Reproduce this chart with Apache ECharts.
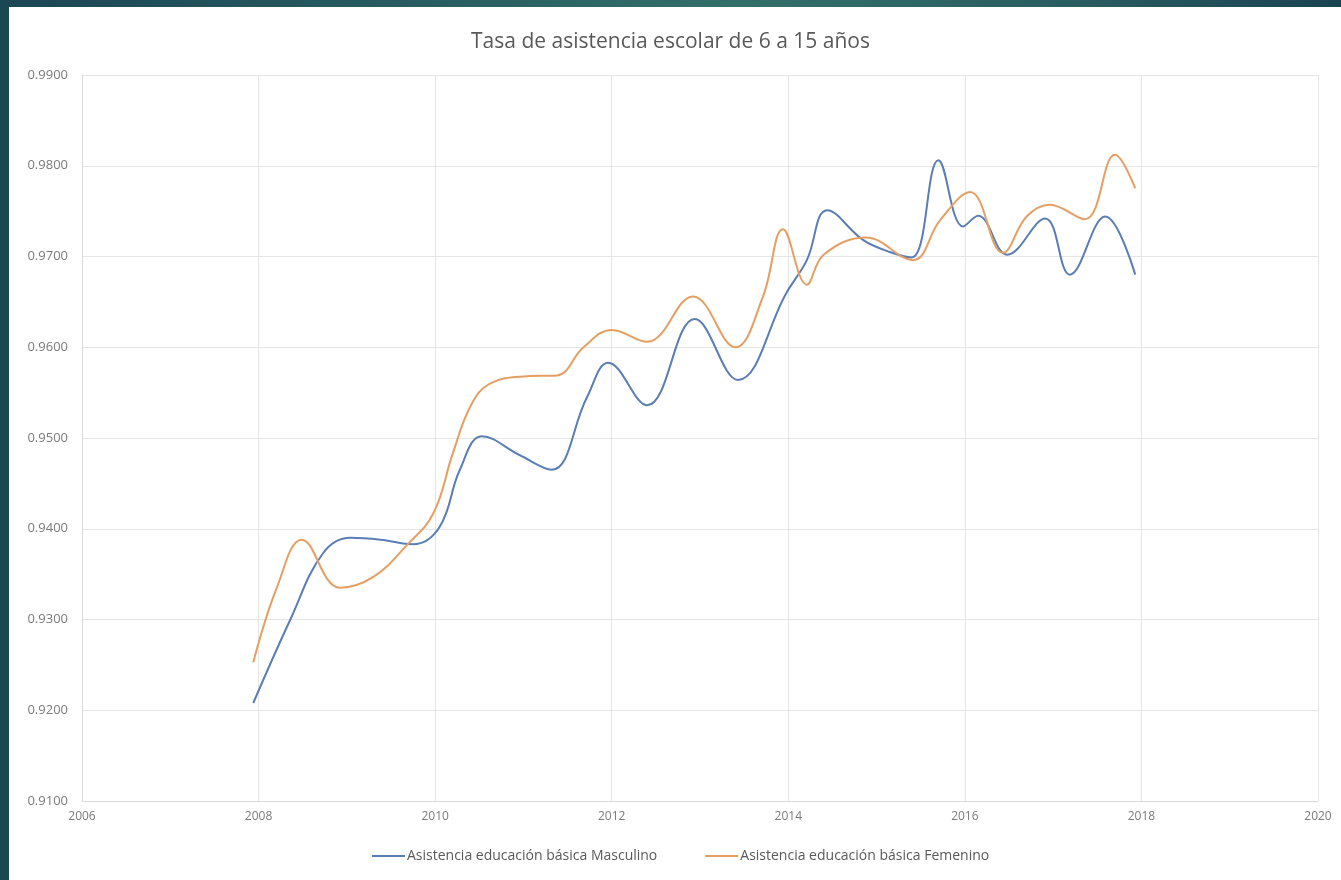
<!DOCTYPE html>
<html>
<head>
<meta charset="utf-8">
<script src="https://cdn.jsdelivr.net/npm/echarts@6/dist/echarts.min.js"></script>
<style>
  html, body { margin: 0; padding: 0; width: 1341px; height: 880px; overflow: hidden; }
  body { background: #1b4752; position: relative; }
  #topband { position: absolute; left: 0; top: 0; width: 1341px; height: 8px;
    background: linear-gradient(90deg, #1b4653 0%, #2a5f63 35%, #336f69 55%, #2a5d62 80%, #1a4350 100%); }
  #paper { position: absolute; left: 9px; top: 7px; right: 0; bottom: 0; background: #ffffff; }
  #chart { position: absolute; left: 0; top: 0; width: 1341px; height: 880px; }
</style>
</head>
<body>
<div id="topband"></div>
<div id="paper"></div>
<div id="chart"></div>
<script>
// Data (decimal year, rate)
var maleYears = [2007.94, 2008.36, 2008.73, 2009.04, 2009.38, 2009.75, 2010.05, 2010.28, 2010.53, 2010.96,
                 2011.32, 2011.72, 2011.96, 2012.40, 2012.94, 2013.43, 2013.98, 2014.21, 2014.44, 2014.85,
                 2015.15, 2015.40, 2015.70, 2015.98, 2016.15, 2016.48, 2016.91, 2017.19, 2017.59, 2017.93];
var maleValues = [0.9208, 0.9300, 0.9373, 0.9390, 0.9388, 0.9383, 0.9402, 0.9465, 0.9502, 0.9481,
                  0.9465, 0.9545, 0.9583, 0.9536, 0.9631, 0.9564, 0.9660, 0.9696, 0.9751, 0.9718,
                  0.9705, 0.9699, 0.9806, 0.9733, 0.9745, 0.9702, 0.9742, 0.9680, 0.9744, 0.9680];

var femaleYears = [2007.94, 2008.21, 2008.49, 2008.92, 2009.30, 2009.68, 2009.98, 2010.20, 2010.40, 2010.62,
                   2011.04, 2011.38, 2011.68, 2012.00, 2012.40, 2012.92, 2013.40, 2013.71, 2013.94, 2014.21,
                   2014.40, 2014.88, 2015.41, 2015.72, 2016.06, 2016.43, 2016.70, 2016.96, 2017.36, 2017.70, 2017.93];
var femaleValues = [0.9253, 0.9336, 0.9388, 0.9335, 0.9347, 0.9382, 0.9417, 0.9483, 0.9535, 0.9560,
                    0.9568, 0.9569, 0.9600, 0.9619, 0.9606, 0.9656, 0.9600, 0.9655, 0.9730, 0.9669,
                    0.9702, 0.9721, 0.9696, 0.9740, 0.9771, 0.9704, 0.9744, 0.9757, 0.9741, 0.9812, 0.9775];

var seriesNames = ['Asistencia educación básica Masculino', 'Asistencia educación básica Femenino'];
var chartTitle = 'Tasa de asistencia escolar de 6 a 15 años';

function pairs(xs, ys) { return xs.map(function (x, i) { return [x, ys[i]]; }); }

var chart = echarts.init(document.getElementById('chart'));
chart.setOption({
  backgroundColor: 'transparent',
  animation: false,
  title: {
    text: chartTitle, left: 'center', top: 27,
    textStyle: { fontFamily: 'Open Sans', fontSize: 21, fontWeight: 'normal', color: '#595959' }
  },
  legend: {
    bottom: 12, left: 367, itemWidth: 33, itemHeight: 2, itemGap: 48,
    icon: 'rect',
    textStyle: { fontFamily: 'Open Sans', fontSize: 14, color: '#595959', padding: [0, 0, 0, -3] },
    data: seriesNames
  },
  grid: { left: 82, right: 23, top: 75, bottom: 79, containLabel: false },
  xAxis: {
    type: 'value', min: 2006, max: 2020, interval: 2,
    axisLine: { show: true, lineStyle: { color: '#d9d9d9', width: 1 } },
    axisTick: { show: false },
    axisLabel: { fontFamily: 'Open Sans', fontSize: 12, color: '#7a7a7a', margin: 10,
      formatter: function (v) { return String(Math.round(v)); } },
    splitLine: { show: true, lineStyle: { color: '#e6e6e6', width: 1 } }
  },
  yAxis: {
    type: 'value', min: 0.91, max: 0.99, interval: 0.01,
    axisLine: { show: true, lineStyle: { color: '#d9d9d9', width: 1 } },
    axisTick: { show: false },
    axisLabel: { fontFamily: 'Open Sans', fontSize: 13, color: '#7a7a7a', margin: 14,
      formatter: function (v) { return v.toFixed(4); } },
    splitLine: { show: true, lineStyle: { color: '#e6e6e6', width: 1 } }
  },
  series: [
    {
      name: seriesNames[0], type: 'line', smooth: 0.4, symbol: 'none',
      lineStyle: { color: '#5a7db5', width: 2 }, itemStyle: { color: '#5a7db5' },
      data: pairs(maleYears, maleValues)
    },
    {
      name: seriesNames[1], type: 'line', smooth: 0.4, symbol: 'none',
      lineStyle: { color: '#e59f63', width: 2 }, itemStyle: { color: '#e59f63' },
      data: pairs(femaleYears, femaleValues)
    }
  ]
});
</script>
</body>
</html>
